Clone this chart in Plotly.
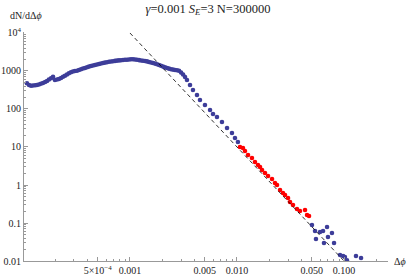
import plotly.graph_objects as go

# ---- data ----
blue_x = [1.09e-4, 1.14e-4, 1.19e-4, 1.24e-4, 1.30e-4, 1.35e-4, 1.41e-4, 1.47e-4, 1.54e-4, 1.61e-4,
          1.68e-4, 1.75e-4, 1.83e-4, 1.91e-4, 1.99e-4, 2.08e-4, 2.17e-4, 2.27e-4, 2.37e-4, 2.47e-4,
          2.58e-4, 2.69e-4, 2.81e-4, 2.93e-4, 3.06e-4, 3.20e-4, 3.34e-4, 3.49e-4, 3.64e-4, 3.80e-4,
          3.97e-4, 4.14e-4, 4.32e-4, 4.51e-4, 4.71e-4, 4.92e-4, 5.14e-4, 5.36e-4, 5.60e-4, 5.84e-4,
          6.10e-4, 6.37e-4, 6.65e-4, 6.94e-4, 7.25e-4, 7.57e-4, 7.90e-4, 8.25e-4, 8.61e-4, 8.99e-4,
          9.38e-4, 9.80e-4, 1.023e-3, 1.068e-3, 1.115e-3, 1.164e-3, 1.215e-3, 1.268e-3, 1.324e-3, 1.382e-3,
          1.443e-3, 1.507e-3, 1.573e-3, 1.642e-3, 1.715e-3, 1.790e-3, 1.869e-3, 1.951e-3, 2.037e-3, 2.126e-3,
          2.220e-3, 2.318e-3, 2.420e-3, 2.526e-3, 2.637e-3, 2.753e-3, 2.874e-3, 3.001e-3, 3.133e-3,
          3.27e-3, 3.41e-3, 3.64e-3, 3.88e-3, 4.23e-3, 4.51e-3, 5.02e-3, 5.60e-3, 5.97e-3, 6.50e-3,
          7.24e-3, 8.07e-3, 8.98e-3, 9.58e-3, 1.02e-2]
blue_y = [475, 428, 410, 415, 421, 428, 441, 463, 483, 514,
          546, 598, 642, 708, 580, 598, 616, 654, 708, 752,
          809, 870, 929, 970, 1000, 1018, 1062, 1115, 1163, 1199,
          1259, 1305, 1355, 1396, 1439, 1483, 1528, 1575, 1624, 1665,
          1705, 1747, 1778, 1811, 1844, 1878, 1900, 1923, 1946, 1972,
          1983, 2009, 2032, 2032, 2009, 1972, 1936, 1888, 1855, 1824,
          1790, 1726, 1675, 1624, 1566, 1500, 1439, 1371, 1305, 1244,
          1199, 1151, 1115, 1089, 1062, 1050, 1012, 914, 809,
          695, 580, 428, 316, 233, 172, 127, 94, 73.8, 61.6,
          45.5, 31.6, 23.4, 17.2, 13.5]

red_x = [1.067e-2, 1.138e-2, 1.188e-2, 1.268e-2, 1.380e-2, 1.472e-2, 1.571e-2, 1.641e-2, 1.714e-2,
         1.827e-2, 1.950e-2, 2.125e-2, 2.265e-2, 2.366e-2, 2.524e-2, 2.690e-2, 2.812e-2, 3.000e-2,
         3.129e-2, 3.337e-2, 3.636e-2, 3.879e-2, 4.322e-2, 4.513e-2, 4.711e-2]
red_y = [10.0, 9.42, 7.85, 6.15, 5.14, 4.03, 3.36, 2.98, 2.48,
         2.07, 1.73, 1.44, 1.13, 1.0, 0.738, 0.617, 0.546, 0.455,
         0.357, 0.298, 0.233, 0.207, 0.220, 0.163, 0.153]

tail_x = [5.02e-2, 5.36e-2, 5.47e-2, 5.97e-2, 6.37e-2, 6.50e-2, 6.94e-2, 7.08e-2, 7.72e-2, 8.07e-2,
          9.18e-2, 9.80e-2, 0.102, 0.1066, 0.1294, 0.1443]
tail_y = [0.0886, 0.0615, 0.0379, 0.0579, 0.0615, 0.0298, 0.0785, 0.0429, 0.0546, 0.0298,
          0.0144, 0.0135, 0.0127, 0.0105, 0.0135, 0.0120]

fit_x = [0.001, 0.1]
fit_y = [1.0e4, 0.01]

x_tickvals = [5e-4, 1e-3, 5e-3, 1e-2, 5e-2, 1e-1]
x_ticktext = ["5\u00d710<sup>\u22124</sup>", "0.001", "0.005", "0.010", "0.050", "0.100"]
y_tickvals = [0.01, 0.1, 1, 10, 100, 1000, 1e4]
y_ticktext = ["0.01", "0.1", "1", "10", "100", "1000", "10<sup>4</sup>"]

title = "<i>\u03b3</i>=0.001 <i>S<sub>E</sub></i>=3 N=300000"

BLUE = "#3d3d99"
RED = "#ff0000"
FONT = "'Liberation Serif', 'Times New Roman', Times, serif"
AXC = "#999999"
TXT = "#222222"

x_minor = [m * 10 ** e for e in range(-4, 0) for m in range(2, 10) if m != 5]
y_minor = [m * 10 ** e for e in range(-2, 4) for m in range(2, 10)]

fig = go.Figure()
mk = dict(size=4.6, line=dict(width=0))
fig.add_trace(go.Scatter(x=blue_x, y=blue_y, mode="markers", marker=dict(color=BLUE, **mk)))
fig.add_trace(go.Scatter(x=red_x, y=red_y, mode="markers", marker=dict(color=RED, **mk)))
fig.add_trace(go.Scatter(x=tail_x, y=tail_y, mode="markers", marker=dict(color=BLUE, **mk)))
fig.add_trace(go.Scatter(x=fit_x, y=fit_y, mode="lines",
                         line=dict(color="black", width=0.8, dash="4px,3px")))

axis_common = dict(type="log", showgrid=False, zeroline=False, automargin=False,
                   showline=True, linecolor=AXC, linewidth=1,
                   ticks="inside", ticklen=4, tickcolor=AXC, tickwidth=1,
                   tickmode="array",
                   tickfont=dict(family=FONT, size=10, color=TXT))

fig.update_layout(
    width=416, height=277,
    margin=dict(l=24, r=28, t=32, b=16, autoexpand=False),
    paper_bgcolor="white", plot_bgcolor="white",
    showlegend=False,
    font=dict(family=FONT, size=10, color=TXT),
    title=dict(text=title, x=0.5, xanchor="center", y=0.97, yanchor="middle",
               font=dict(family=FONT, size=12.5, color=TXT)),
    xaxis=dict(range=[-3.99, -0.589], tickvals=x_tickvals, ticktext=x_ticktext,
               minor=dict(ticks="inside", ticklen=2, tickcolor=AXC, tickmode="array",
                          tickvals=x_minor, showgrid=False),
               **axis_common),
    yaxis=dict(range=[-2, 4.026], tickvals=y_tickvals, ticktext=y_ticktext,
               minor=dict(ticks="inside", ticklen=2, tickcolor=AXC, tickmode="array",
                          tickvals=y_minor, showgrid=False),
               **axis_common),
)

fig.add_annotation(text="dN/d\u0394<i>\u03d5</i>", xref="paper", yref="paper",
                   x=-0.045, y=1.07, xanchor="left", yanchor="middle", showarrow=False,
                   font=dict(family=FONT, size=10, color=TXT))
fig.add_annotation(text="\u0394<i>\u03d5</i>", xref="paper", yref="paper",
                   x=1.012, y=0.0, xanchor="left", yanchor="middle", showarrow=False,
                   font=dict(family=FONT, size=10, color=TXT))

fig.write_html("out.html", config={"displayModeBar": False},
               post_script="document.body.style.margin='0';document.body.style.padding='0';")
